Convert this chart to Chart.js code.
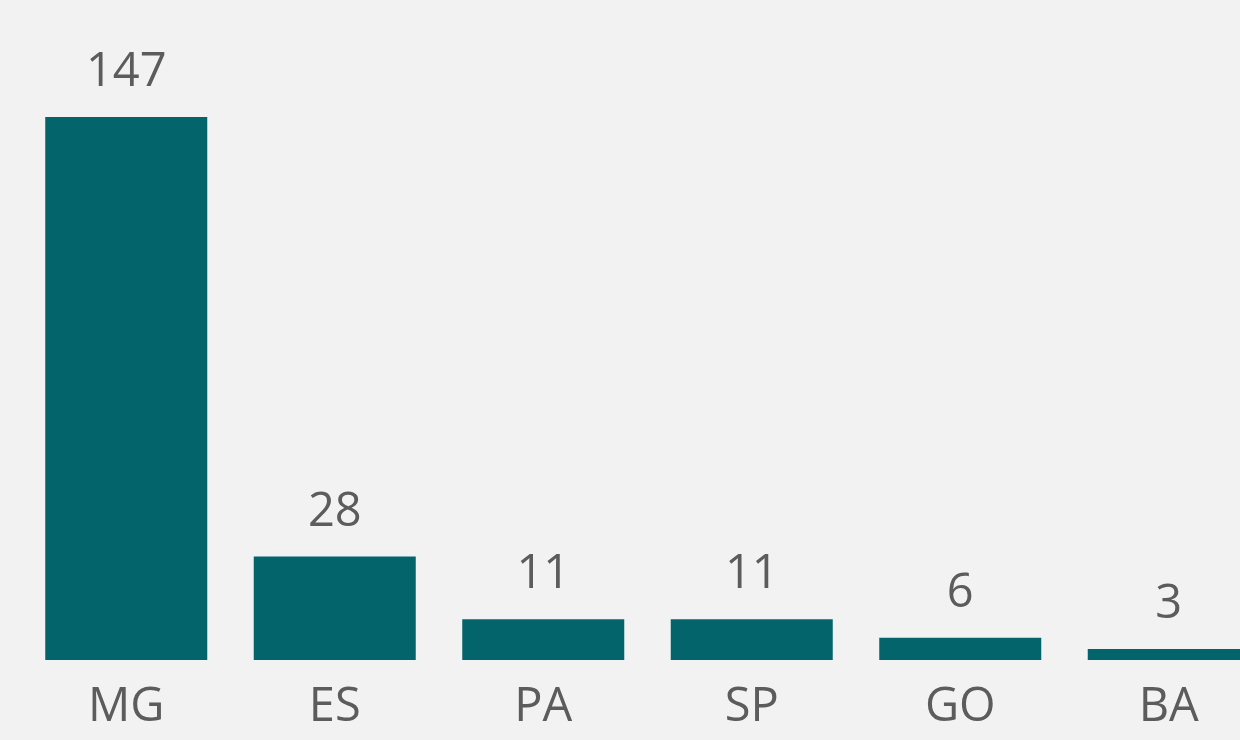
<!DOCTYPE html>
<html>
<head>
<meta charset="utf-8">
<script src="https://cdn.jsdelivr.net/npm/chart.js@4"></script>
<style>
  html, body { margin: 0; padding: 0; background: #f2f2f2; overflow: hidden; }
  #wrap { width: 1273px; height: 740px; }
</style>
</head>
<body>
<div id="wrap"><canvas id="chart" width="1273" height="740"></canvas></div>
<script>
// --- Data ---
const states = ['MG', 'ES', 'PA', 'SP', 'GO', 'BA'];
const counts = [147, 28, 11, 11, 6, 3];

const barColor = '#03656b';
const textColor = '#5c5c5c';
const fontFamily = '"Open Sans", "Noto Sans", sans-serif';

// draws the value above each bar
const valueLabels = {
    id: 'valueLabels',
    afterDatasetsDraw(chart) {
        const ctx = chart.ctx;
        ctx.save();
        ctx.fillStyle = textColor;
        ctx.font = '47px ' + fontFamily;
        ctx.textAlign = 'center';
        ctx.textBaseline = 'alphabetic';
        chart.getDatasetMeta(0).data.forEach((bar, i) => {
            ctx.fillText(counts[i], bar.x, bar.y - 31);
        });
        ctx.restore();
    }
};

new Chart(document.getElementById('chart'), {
    type: 'bar',
    data: {
        labels: states,
        datasets: [{
            data: counts,
            backgroundColor: barColor,
            barPercentage: 0.777,
            categoryPercentage: 1
        }]
    },
    options: {
        responsive: false,
        animation: false,
        layout: { padding: { left: 22, right: 0, top: 0, bottom: 0 } },
        plugins: {
            legend: { display: false },
            tooltip: { enabled: false }
        },
        scales: {
            x: {
                grid: { display: false, drawTicks: false },
                border: { display: false },
                ticks: {
                    color: textColor,
                    font: { family: fontFamily, size: 47 },
                    padding: 19,
                    maxRotation: 0
                },
                afterFit: (scale) => { scale.height = 80; }
            },
            y: {
                display: false,
                min: 0,
                max: 178.7
            }
        }
    },
    plugins: [valueLabels]
});
</script>
</body>
</html>
